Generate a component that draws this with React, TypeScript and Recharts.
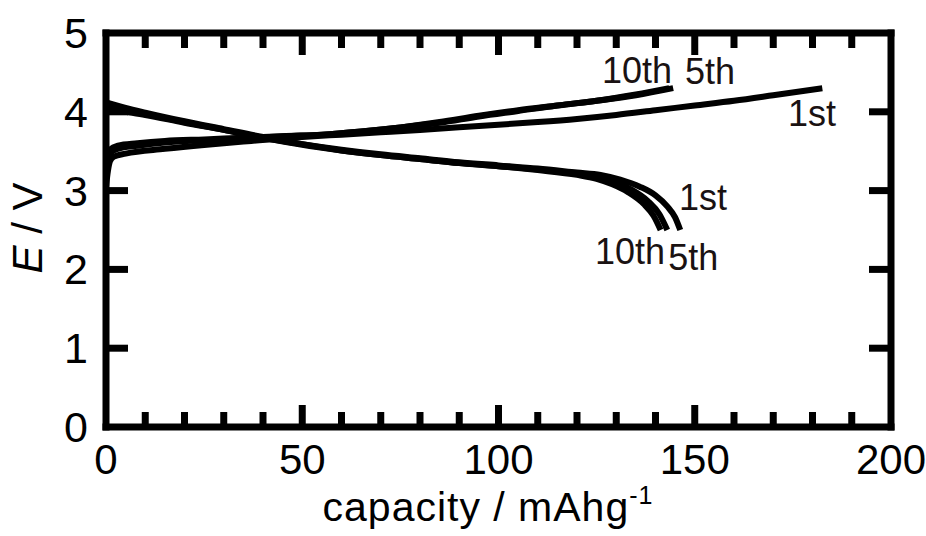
import React from "react";
import {
  Customized,
  Line,
  LineChart,
  ReferenceDot,
  XAxis,
  YAxis,
} from "recharts";

type Pt = [number, number];

// [capacity / mAh g-1, E / V]
const charge1st: Pt[] = [
  [0, 3.05], [0.5, 3.25], [1, 3.37], [2, 3.43], [5, 3.47], [15, 3.53], [25, 3.58],
  [37, 3.63], [50, 3.68], [60, 3.71], [70, 3.74], [80, 3.77], [95, 3.82], [110, 3.87],
  [120, 3.91], [130, 3.96], [140, 4.02], [150, 4.08], [160, 4.14], [170, 4.21], [182.5, 4.3],
];
const charge5th: Pt[] = [
  [0, 3.36], [1, 3.47], [3, 3.53], [8, 3.57], [15, 3.61], [25, 3.64], [35, 3.66],
  [45, 3.69], [55, 3.71], [65, 3.75], [75, 3.8], [85, 3.86], [95, 3.94], [105, 4.01],
  [115, 4.08], [125, 4.14], [135, 4.21], [144.5, 4.3],
];
const charge10th: Pt[] = [
  [0, 3.42], [1, 3.52], [3, 3.57], [8, 3.6], [15, 3.63], [25, 3.65], [35, 3.67],
  [45, 3.69], [55, 3.71], [65, 3.75], [75, 3.8], [85, 3.87], [95, 3.95], [105, 4.02],
  [115, 4.08], [125, 4.14], [135, 4.22], [143.5, 4.3],
];
const discharge1st: Pt[] = [
  [0, 4.04], [5, 4.0], [10, 3.96], [20, 3.86], [30, 3.77], [40, 3.67], [50, 3.59],
  [60, 3.52], [70, 3.46], [80, 3.41], [90, 3.36], [100, 3.32], [110, 3.28], [120, 3.23],
  [126, 3.2], [131, 3.14], [136, 3.05], [140, 2.94], [143, 2.8], [145, 2.66], [146.3, 2.5],
];
const discharge5th: Pt[] = [
  [0, 4.08], [5, 4.02], [10, 3.97], [20, 3.87], [30, 3.77], [40, 3.67], [50, 3.58],
  [60, 3.51], [70, 3.45], [80, 3.4], [90, 3.35], [100, 3.31], [110, 3.27], [120, 3.21],
  [125, 3.17], [130, 3.1], [134, 3.01], [138, 2.87], [141, 2.7], [143, 2.5],
];
const discharge10th: Pt[] = [
  [0, 4.12], [5, 4.05], [10, 3.99], [20, 3.88], [30, 3.78], [40, 3.68], [50, 3.59],
  [60, 3.51], [70, 3.45], [80, 3.4], [90, 3.35], [100, 3.31], [110, 3.26], [120, 3.2],
  [125, 3.15], [129, 3.08], [133, 2.98], [137, 2.83], [139.5, 2.68], [141.3, 2.5],
];

const curves = [charge1st, charge5th, charge10th, discharge1st, discharge5th, discharge10th];

// cycle labels: [capacity, E, text]
const cycleLabels: [number, number, string][] = [
  [135.3, 4.53, "10th"],
  [153.9, 4.51, "5th"],
  [179.9, 3.98, "1st"],
  [152.1, 2.91, "1st"],
  [133.5, 2.23, "10th"],
  [149.6, 2.16, "5th"],
];

const xTicks = [0, 10, 20, 30, 40, 50, 60, 70, 80, 90, 100, 110, 120, 130, 140, 150, 160, 170, 180, 190, 200];
const yTicks = [0, 1, 2, 3, 4, 5];

const FONT = "'Liberation Sans', Arial, sans-serif";
const INK = "#000";

// plot box size in px (margins below)
const PLOT_W = 785;
const PLOT_H = 394;

const toRows = (pts: Pt[]) => pts.map(([x, y]) => ({ x, y }));

// bottom tick also mirrors its inward mark on the top frame
const XTick = ({ x, y, payload }: any) => {
  const v = payload.value as number;
  const major = v % 50 === 0;
  const len = major ? 22 : 15;
  const yTop = y - PLOT_H;
  return (
    <g>
      {v > 0 && v < 200 && (
        <>
          <line x1={x} x2={x} y1={y} y2={y - len} stroke={INK} strokeWidth={7} />
          <line x1={x} x2={x} y1={yTop} y2={yTop + len} stroke={INK} strokeWidth={7} />
        </>
      )}
      {major && (
        <text x={x} y={y + 47} textAnchor="middle" fontSize={42} fontFamily={FONT} fill={INK}>
          {v}
        </text>
      )}
    </g>
  );
};

const YTick = ({ x, y, payload }: any) => {
  const v = payload.value as number;
  const xRight = x + PLOT_W;
  return (
    <g>
      {v > 0 && v < 5 && (
        <>
          <line x1={x} x2={x + 22} y1={y} y2={y} stroke={INK} strokeWidth={7} />
          <line x1={xRight} x2={xRight - 22} y1={y} y2={y} stroke={INK} strokeWidth={7} />
        </>
      )}
      <text x={x - 18} y={y + 15} textAnchor="end" fontSize={43} fontFamily={FONT} fill={INK}>
        {v}
      </text>
    </g>
  );
};

const Titles = () => (
  <g fontFamily={FONT} fill={INK}>
    <text x={488} y={521} textAnchor="middle" fontSize={41} letterSpacing={1}>
      capacity / mAhg
      <tspan fontSize={25} dy={-17}>-1</tspan>
    </text>
    <text x={42} y={228} textAnchor="middle" fontSize={42} transform="rotate(-90 42 228)">
      <tspan fontStyle="italic">E</tspan> / V
    </text>
  </g>
);

const frameLine = { stroke: INK, strokeWidth: 7, strokeLinecap: "square" as const };

export default function App() {
  return (
    <div style={{ position: "absolute", left: 0, top: 0, background: "#fff" }}>
      <LineChart
        width={926}
        height={536}
        margin={{ top: 32, right: 34, bottom: 108, left: 105 }}
      >
        <XAxis
          dataKey="x"
          type="number"
          domain={[0, 200]}
          ticks={xTicks}
          interval={0}
          height={1}
          tickSize={0}
          tickMargin={0}
          tickLine={false}
          axisLine={frameLine}
          tick={<XTick />}
        />
        <XAxis
          xAxisId="top"
          orientation="top"
          dataKey="x"
          type="number"
          domain={[0, 200]}
          height={1}
          tickLine={false}
          tick={false}
          axisLine={frameLine}
        />
        <YAxis
          type="number"
          domain={[0, 5]}
          ticks={yTicks}
          interval={0}
          width={1}
          tickSize={0}
          tickMargin={0}
          tickLine={false}
          axisLine={frameLine}
          tick={<YTick />}
        />
        <YAxis
          yAxisId="right"
          orientation="right"
          type="number"
          domain={[0, 5]}
          width={1}
          tickLine={false}
          tick={false}
          axisLine={frameLine}
        />
        {curves.map((pts, i) => (
          <Line
            key={i}
            data={toRows(pts)}
            dataKey="y"
            type="monotone"
            stroke={INK}
            strokeWidth={6}
            dot={false}
            activeDot={false}
            isAnimationActive={false}
          />
        ))}
        {cycleLabels.map(([x, y, text], i) => (
          <ReferenceDot
            key={`l${i}`}
            x={x}
            y={y}
            r={0}
            stroke="none"
            fill="none"
            label={{
              value: text,
              position: "center",
              fontSize: 36,
              fontFamily: FONT,
              fill: "#1a1212",
            }}
          />
        ))}
        <Customized component={Titles} />
      </LineChart>
    </div>
  );
}
